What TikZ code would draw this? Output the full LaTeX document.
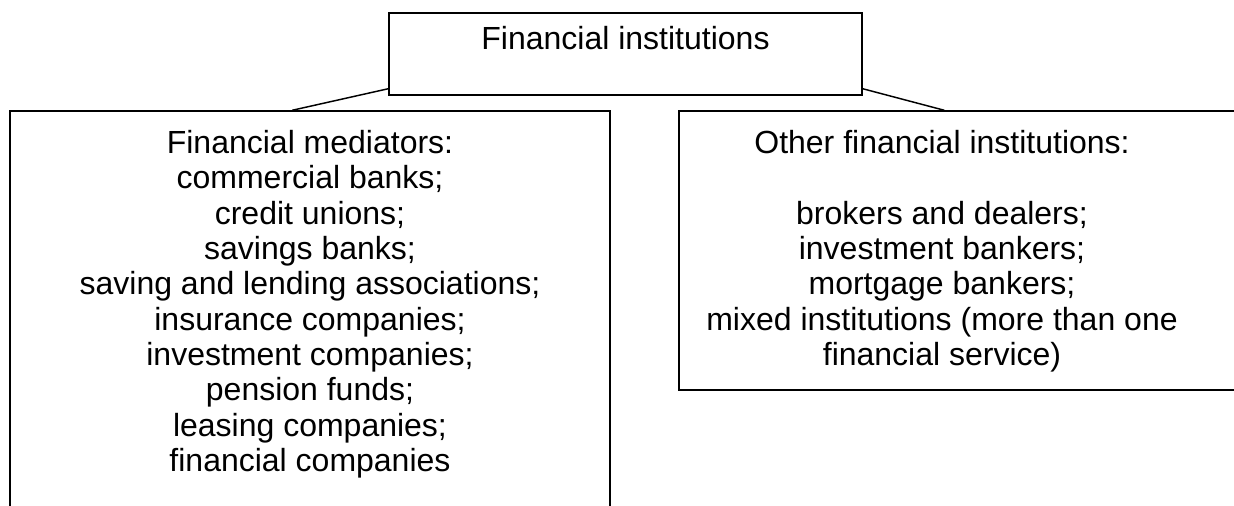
\documentclass[tikz,border=0pt]{standalone}
\usepackage{fontspec}
\setmainfont{Liberation Sans}
\usetikzlibrary{positioning}

\begin{document}
\begin{tikzpicture}[x=0.75pt, y=-0.75pt,
        caja/.style={draw, line width=1.1pt, inner sep=0pt},
        texto/.style={align=center, inner sep=0pt, font=\fontsize{24pt}{26.5pt}\selectfont}]
        % Marco de la figura
        \useasboundingbox (0,0) rectangle (1234,506);
        \clip (0,0) rectangle (1234,506);

        % Caja superior
        \node[caja, minimum width=473*0.75pt, minimum height=82*0.75pt] (inst) at (625.5,54) {};
        \node[texto, anchor=base] (instT) at (625.5,50) {Financial institutions};

        % Caja izquierda (intermediarios)
        \node[caja, minimum width=600*0.75pt, minimum height=429*0.75pt] (med) at (310,325.5) {};
        \node[texto, anchor=north] (medT) at (310,130) {Financial mediators:\\
            commercial banks;\\ credit unions;\\ savings banks;\\
            saving and lending associations;\\ insurance companies;\\
            investment companies;\\ pension funds;\\ leasing companies;\\
            financial companies};

        % Caja derecha (otras instituciones)
        \node[caja, minimum width=571*0.75pt, minimum height=279*0.75pt] (otr) at (964.5,250.5) {};
        \node[texto, anchor=north] (otrT) at (942,130) {Other financial institutions:\\[26.5pt]
            brokers and dealers;\\ investment bankers;\\ mortgage bankers;\\
            mixed institutions (more than one\\ financial service)};

        % Conectores
        \draw[line width=1.1pt] ([yshift=5.25pt]inst.south west) -- ([xshift=283*0.75pt]med.north west);
        \draw[line width=1.1pt] ([yshift=5.25pt]inst.south east) -- ([xshift=266*0.75pt]otr.north west);
    \end{tikzpicture}
\end{document}
